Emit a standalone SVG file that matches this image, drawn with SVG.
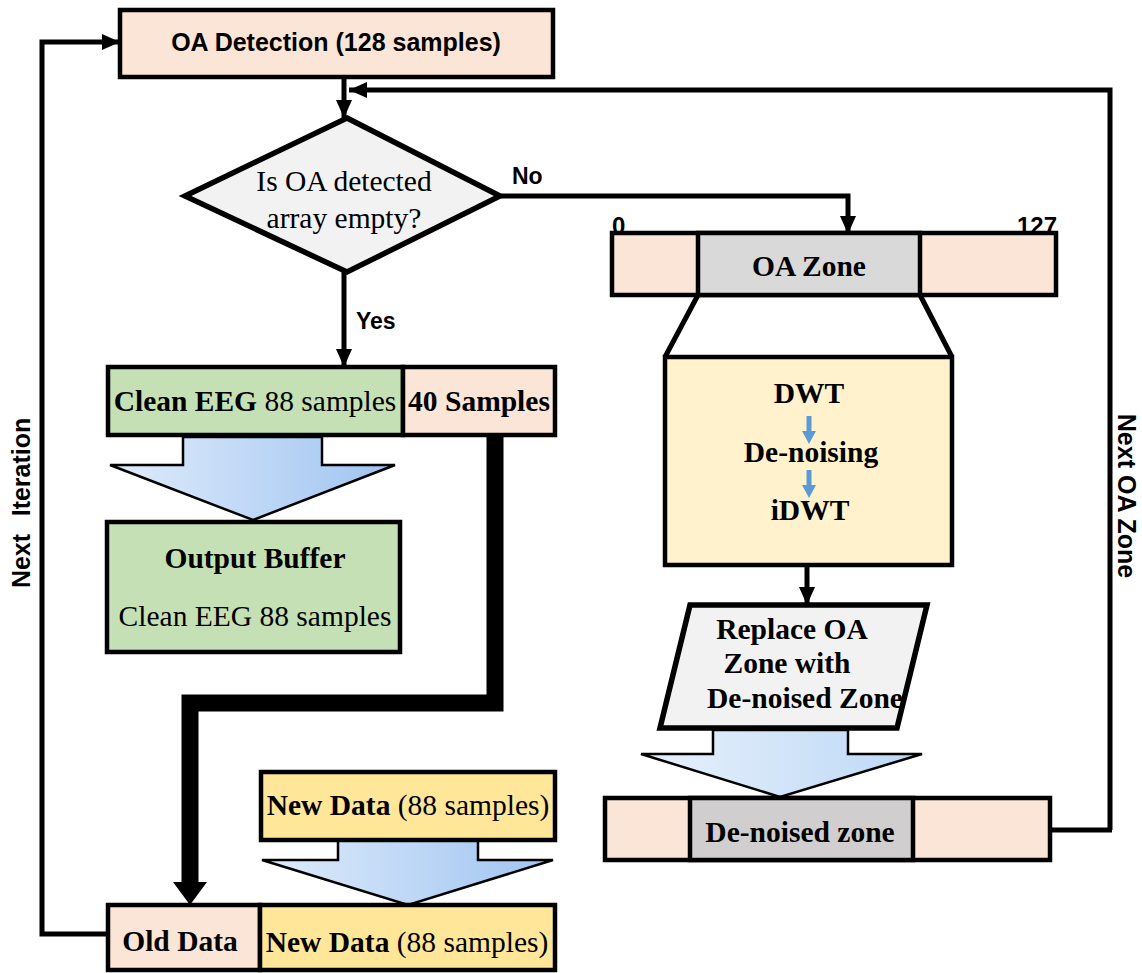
<svg xmlns="http://www.w3.org/2000/svg" width="1142" height="973" viewBox="0 0 1142 973">
<defs>
<style>
.box{stroke:#000;stroke-width:4.5}
.peach{fill:#fbe5d6}
.green{fill:#c5e0b4}
.yellow{fill:#ffe699}
.cream{fill:#fff2cc}
.gray{fill:#d9d9d9}
.lgray{fill:#f2f2f2}
.sans{font-family:"Liberation Sans",Arial,sans-serif;font-weight:bold}
.serif{font-family:"Liberation Serif","Times New Roman",serif;font-size:29.5px}
.b{font-weight:bold}
.line{fill:none;stroke:#000;stroke-width:5}
.thick{fill:none;stroke:#000;stroke-width:17}
.blk{stroke:#000;stroke-width:2.5}
.bluearrow{fill:#5b9bd5}
</style>
<linearGradient id="g1" x1="0" y1="0" x2="1" y2="0">
<stop offset="0" stop-color="#e0ecfb"/>
<stop offset="1" stop-color="#9ec4f1"/>
</linearGradient>
<linearGradient id="g2" x1="0" y1="0" x2="1" y2="0">
<stop offset="0" stop-color="#e8f1fc"/>
<stop offset="1" stop-color="#bcd8f6"/>
</linearGradient>
<marker id="ah" markerUnits="userSpaceOnUse" markerWidth="18" markerHeight="18" viewBox="0 0 18 18" refX="18" refY="9" orient="auto">
<path d="M0,1 L18,9 L0,17 Z" fill="#000"/>
</marker>
</defs>
<rect width="1142" height="973" fill="#fff"/>

<g id="connectors">
<path class="line" d="M344,79 V118" marker-end="url(#ah)"/>
<path class="line" d="M1110,830 V90 H349" marker-end="url(#ah)"/>
<path class="line" d="M1050,830 H1112"/>
<path class="line" d="M108,934 H42 V42 H120" marker-end="url(#ah)"/>
<path class="line" d="M500,196 H848 V234" marker-end="url(#ah)"/>
<path class="line" d="M344,272 V367" marker-end="url(#ah)"/>
<path class="line" d="M807,565 V605" marker-end="url(#ah)"/>
<path class="line" d="M698,295 L665,357 M920,295 L952,357"/>
<path class="thick" d="M495,435 V703 H190 V884"/>
<path d="M173,882 H207 L190,905 Z" fill="#000"/>
</g>

<g id="oa-detection">
<rect class="box peach" x="120" y="10" width="433" height="67"/>
<text class="sans" x="336" y="51" font-size="25" text-anchor="middle">OA Detection (128 samples)</text>
</g>

<g id="decision">
<path class="lgray" d="M347,118 L500,196 L347,272 L185,196 Z" stroke="#000" stroke-width="5.5"/>
<text class="serif" x="344" y="191" text-anchor="middle">Is OA detected</text>
<text class="serif" x="344" y="228" text-anchor="middle">array empty?</text>
</g>

<g id="labels">
<text class="sans" x="512" y="184" font-size="23">No</text>
<text class="sans" x="356" y="329" font-size="23">Yes</text>
<text class="sans" x="1118" y="496" font-size="25" text-anchor="middle" transform="rotate(90 1118 496)">Next OA Zone</text>
<text class="sans" x="30" y="561" font-size="25" text-anchor="middle" transform="rotate(-90 30 561)">Next</text>
<text class="sans" x="30" y="467" font-size="25" text-anchor="middle" transform="rotate(-90 30 467)">Iteration</text>
</g>

<g id="oa-zone">
<text class="sans" x="612" y="234" font-size="24">0</text>
<text class="sans" x="1057" y="234" font-size="24" text-anchor="end">127</text>
<rect class="box peach" x="612" y="233" width="444" height="62"/>
<rect class="box gray" x="698" y="233" width="222" height="62"/>
<text class="serif b" x="809" y="276" text-anchor="middle">OA Zone</text>
</g>

<g id="dwt">
<rect class="box cream" x="665" y="357" width="287" height="208"/>
<text class="serif b" x="809" y="403" text-anchor="middle">DWT</text>
<text class="serif b" x="811" y="462" text-anchor="middle">De-noising</text>
<text class="serif b" x="810" y="520" text-anchor="middle">iDWT</text>
<path class="bluearrow" d="M806.5,416 H811.5 V431 H816 L809,444 L802,431 H806.5 Z"/>
<path class="bluearrow" d="M806.5,470 H811.5 V485 H816 L809,498 L802,485 H806.5 Z"/>
</g>

<g id="replace">
<path class="lgray" d="M690,605 L927,605 L897,728 L660,728 Z" stroke="#000" stroke-width="5.5"/>
<text class="serif b" x="792" y="639" text-anchor="middle">Replace OA</text>
<text class="serif b" x="787" y="673" text-anchor="middle">Zone with</text>
<text class="serif b" x="805" y="708" text-anchor="middle">De-noised Zone</text>
</g>

<g id="arrow-denoised">
<path class="blk" fill="url(#g2)" d="M713,730 H848 V754 H922 L780,797 L641,754 H713 Z"/>
</g>

<g id="denoised-zone">
<rect class="box peach" x="605" y="798" width="445" height="62"/>
<rect class="box" fill="#d0cece" x="690" y="798" width="223" height="62"/>
<text class="serif b" x="800" y="842" text-anchor="middle">De-noised zone</text>
</g>

<g id="clean-eeg">
<rect class="box green" x="108" y="367" width="295" height="68"/>
<text class="serif" x="255" y="411" text-anchor="middle"><tspan font-weight="bold">Clean EEG</tspan> 88 samples</text>
</g>

<g id="forty-samples">
<rect class="box peach" x="403" y="367" width="152" height="68"/>
<text class="serif b" x="479" y="411" text-anchor="middle">40 Samples</text>
</g>

<g id="arrow-output">
<path class="blk" fill="url(#g1)" d="M183,437 H322 V465 H395 L253,520 L110,465 H183 Z"/>
</g>

<g id="output-buffer">
<rect class="box green" x="107" y="522" width="293" height="130"/>
<text class="serif b" x="255" y="568" text-anchor="middle">Output Buffer</text>
<text class="serif" x="255" y="626" text-anchor="middle">Clean EEG 88 samples</text>
</g>

<g id="new-data-top">
<rect class="box yellow" x="261" y="772" width="294" height="68"/>
<text class="serif" x="408" y="815" text-anchor="middle"><tspan font-weight="bold">New Data</tspan> (88 samples)</text>
</g>

<g id="arrow-newdata">
<path class="blk" fill="url(#g1)" d="M338,841 H478 V860 H553 L408,905 L262,860 H338 Z"/>
</g>

<g id="old-data">
<rect class="box peach" x="108" y="905" width="152" height="65"/>
<text class="serif b" x="180" y="951" text-anchor="middle">Old Data</text>
</g>

<g id="new-data-bottom">
<rect class="box yellow" x="260" y="905" width="295" height="65"/>
<text class="serif" x="407" y="952" text-anchor="middle"><tspan font-weight="bold">New Data</tspan> (88 samples)</text>
</g>
</svg>
